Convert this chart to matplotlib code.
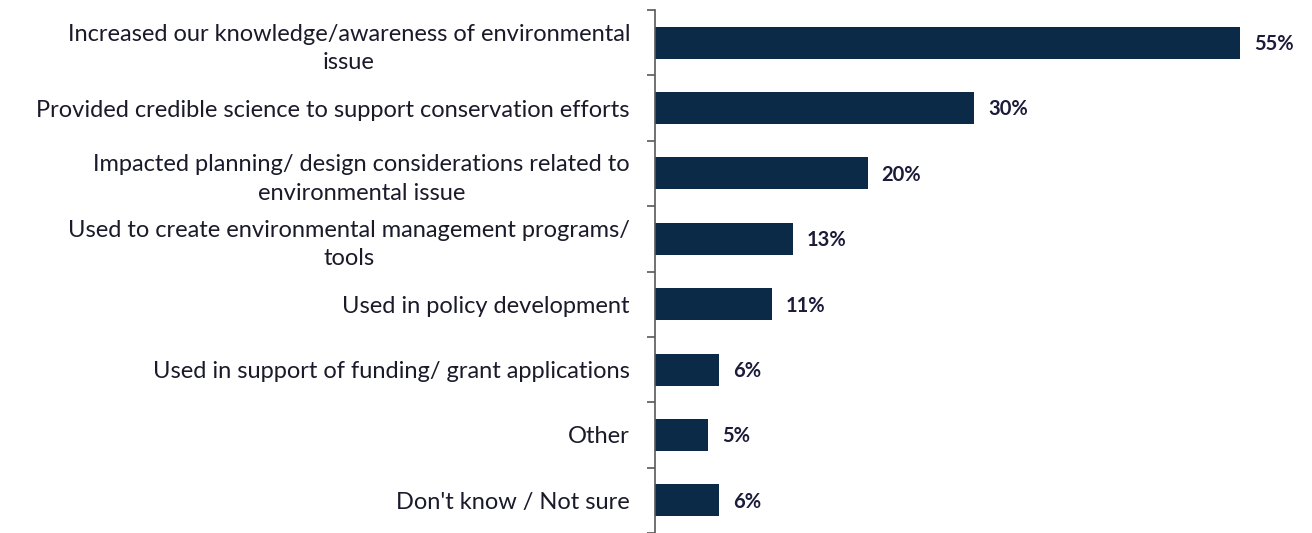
import matplotlib
matplotlib.use("Agg")
import matplotlib.pyplot as plt

categories = [
    "Increased our knowledge/awareness of environmental\nissue",
    "Provided credible science to support conservation efforts",
    "Impacted planning/ design considerations related to\nenvironmental issue",
    "Used to create environmental management programs/\ntools",
    "Used in policy development",
    "Used in support of funding/ grant applications",
    "Other",
    "Don't know / Not sure",
]
values = [55, 30, 20, 13, 11, 6, 5, 6]
value_labels = ["55%", "30%", "20%", "13%", "11%", "6%", "5%", "6%"]

plt.rcParams['font.family'] = ['Lato', 'DejaVu Sans']

fig = plt.figure(figsize=(13.12, 5.33), dpi=100)
ax = fig.add_axes([655/1312, 0.0, (1293-655)/1312, 1 - 10/533])

pos = list(range(len(categories)))
ax.barh(pos, values, height=0.49, color="#0A2A47", edgecolor="none")
ax.set_ylim(len(categories) - 0.5, -0.5)
ax.set_xlim(0, 60)

for p, v, lab in zip(pos, values, value_labels):
    ax.annotate(lab, xy=(v, p), xytext=(10, -1), textcoords="offset points",
                ha="left", va="center", fontsize=14.5, fontweight="bold",
                color="#1B1B3A")

for s in ["top", "right", "bottom"]:
    ax.spines[s].set_visible(False)
ax.spines["left"].set_color("#595959")
ax.spines["left"].set_linewidth(1.2)
ax.set_xticks([])

ax.set_yticks([p - 0.5 for p in pos] + [len(categories) - 0.5], minor=False)
ax.set_yticklabels([])
ax.tick_params(axis="y", which="major", length=6, width=1.2, color="#595959", direction="out")
ax.set_yticks(pos, minor=True)
ax.set_yticklabels(categories, minor=True)
ax.tick_params(axis="y", which="minor", length=0, pad=18, labelsize=17, labelcolor="#1A1A2A")
for t in ax.get_yticklabels(minor=True):
    t.set_multialignment("center")
    t.set_linespacing(1.45)

fig.savefig("out.png", dpi=100)
